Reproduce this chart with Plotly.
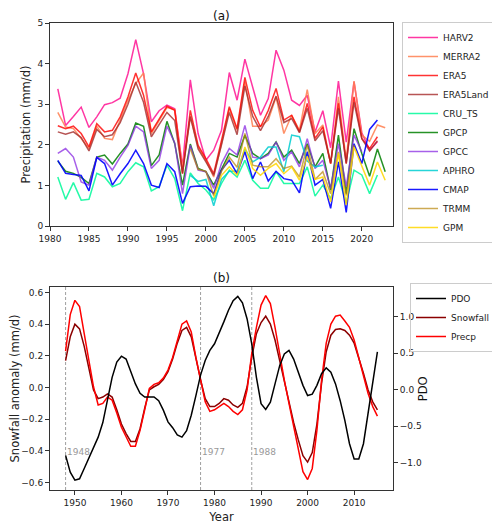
import plotly.graph_objects as go

# ---------------- Panel (a) data ----------------
HARV2_start = 1981
HARV2 = [3.38, 2.48, 2.70, 2.93, 2.43, 2.69, 2.99, 3.04, 3.15, 3.75, 4.59, 3.75, 2.57, 2.84, 2.98,
         2.89, 1.46, 3.60, 2.28, 1.62, 1.87, 2.36, 3.78, 3.10, 4.11, 3.43, 2.73, 3.14, 4.33, 3.84,
         3.10, 2.97, 3.22, 2.32, 2.84, 1.93, 3.57, 2.07, 3.55, 2.30, 1.87, 2.08]
MERRA2_start = 1981
MERRA2 = [2.80, 2.44, 2.40, 2.16, 1.91, 2.46, 2.16, 2.13, 2.61, 3.10, 3.51, 3.77, 2.28, 2.61, 2.92,
          2.87, 1.42, 2.69, 1.95, 1.62, 1.21, 2.03, 2.89, 2.36, 3.55, 2.46, 2.46, 2.61, 3.18, 2.28,
          2.73, 2.36, 3.36, 2.28, 2.49, 1.54, 3.18, 1.62, 3.57, 2.24, 2.09, 2.49, 2.42]
ERA5_start = 1981
ERA5 = [2.47, 2.40, 2.46, 2.28, 1.95, 2.52, 2.32, 2.36, 2.69, 3.18, 3.77, 3.22, 2.32, 2.65, 2.95,
        2.85, 1.29, 2.85, 1.99, 1.66, 1.29, 2.11, 2.94, 2.40, 3.66, 2.85, 2.44, 2.85, 3.39, 2.61,
        2.73, 2.32, 3.02, 2.16, 2.44, 1.54, 3.02, 1.54, 3.18, 2.16, 1.91, 2.20]
ERA5Land_start = 1981
ERA5Land = [2.32, 2.26, 2.32, 2.18, 1.85, 2.38, 2.20, 2.25, 2.55, 3.00, 3.55, 3.05, 2.20, 2.50, 2.80,
            2.60, 1.30, 2.70, 1.90, 1.58, 1.25, 2.00, 2.80, 2.25, 3.45, 2.70, 2.35, 2.70, 3.20, 2.55,
            2.65, 2.30, 2.90, 2.10, 2.35, 1.55, 2.90, 1.55, 3.05, 2.15, 1.85, 2.10]
CRU_TS_start = 1981
CRU_TS = [1.21, 0.66, 1.07, 0.64, 0.66, 1.30, 1.21, 0.97, 1.05, 1.34, 1.56, 1.46, 0.87, 0.97, 1.50,
          1.17, 0.38, 1.31, 1.05, 0.89, 0.65, 1.05, 1.38, 1.21, 1.62, 1.13, 0.93, 0.93, 1.34, 1.05,
          1.05, 1.05, 1.46, 0.74, 1.01, 0.68, 1.21, 0.56, 1.38, 1.26, 0.80, 1.26]
GPCP_start = 1981
GPCP = [1.60, 1.35, 1.30, 1.20, 1.05, 1.70, 1.75, 1.53, 1.79, 2.02, 2.54, 2.46, 1.49, 1.75, 2.58,
        2.03, 1.01, 2.02, 1.42, 1.34, 1.01, 1.42, 1.79, 1.70, 2.24, 1.79, 1.66, 1.79, 2.07, 1.70,
        1.87, 1.54, 2.03, 1.46, 1.79, 0.89, 2.24, 0.80, 2.40, 1.79, 1.23, 1.90, 1.34]
GPCC_start = 1981
GPCC = [1.79, 1.91, 1.70, 1.09, 1.01, 1.70, 1.62, 1.38, 1.70, 1.99, 2.46, 2.32, 1.42, 1.62, 2.46,
        2.05, 0.80, 1.99, 1.38, 1.34, 0.93, 1.54, 1.91, 1.75, 2.48, 1.70, 1.66, 1.75, 2.07, 1.62,
        1.83, 1.46, 2.15, 1.42, 1.62, 0.93, 2.03, 0.97, 2.24, 1.83]
APHRO_start = 1998
APHRO = [1.25, 1.10, 1.15, 0.50, 1.15, 1.35, 1.35, 1.90, 1.58, 1.70, 1.95, 1.95, 1.34, 2.24, 2.20,
         1.60, 1.46, 1.50]
CMAP_start = 1981
CMAP = [1.62, 1.30, 1.27, 1.25, 0.87, 1.69, 1.54, 1.01, 1.29, 1.54, 1.87, 1.54, 1.01, 0.95, 1.54,
        1.34, 0.56, 0.97, 0.99, 0.98, 0.80, 1.38, 1.62, 1.29, 1.83, 1.17, 1.58, 1.11, 1.35, 1.17,
        1.13, 0.82, 1.83, 1.01, 1.15, 0.44, 1.58, 0.34, 2.03, 1.54, 2.38, 2.61]
TRMM_start = 1998
TRMM = [1.90, 1.40, 1.35, 0.75, 1.35, 1.70, 1.45, 2.28, 1.50, 1.46, 1.46, 1.66, 1.42, 1.48, 1.21,
        1.99, 1.15, 1.34, 0.80, 1.83, 0.76, 2.00]
GPM_start = 2001
GPM = [0.70, 1.25, 1.46, 1.25, 1.95, 1.42, 1.25, 1.42, 1.54, 1.29, 1.46, 1.13, 1.72, 1.15, 1.21,
       0.60, 1.79, 0.52, 1.95, 1.46, 1.01, 1.58, 1.13]

series_names = ["HARV2", "MERRA2", "ERA5", "ERA5Land", "CRU_TS", "GPCP", "GPCC",
                "APHRO", "CMAP", "TRMM", "GPM"]
series_values = [HARV2, MERRA2, ERA5, ERA5Land, CRU_TS, GPCP, GPCC, APHRO, CMAP, TRMM, GPM]
series_starts = [HARV2_start, MERRA2_start, ERA5_start, ERA5Land_start, CRU_TS_start, GPCP_start,
                 GPCC_start, APHRO_start, CMAP_start, TRMM_start, GPM_start]
series_colors = ["#FF1493", "#FF7F50", "#FF0000", "#A52A2A", "#00FA9A", "#007F00", "#8A2BE2",
                 "#00CED1", "#0000FF", "#B8860B", "#FFD700"]
series_opacity = [0.85, 0.85, 0.8, 0.8, 0.85, 0.85, 0.75, 0.85, 0.9, 0.7, 0.85]

# ---------------- Panel (b) data ----------------
years_b = list(range(1948, 2016))
PDO = [-0.90, -1.13, -1.24, -1.22, -1.08, -0.94, -0.81, -0.65, -0.45, -0.15, 0.17, 0.38, 0.46, 0.42,
       0.26, 0.08, -0.05, -0.10, -0.10, -0.10, -0.15, -0.28, -0.44, -0.52, -0.62, -0.65, -0.56, -0.35,
       -0.08, 0.20, 0.40, 0.54, 0.63, 0.77, 0.93, 1.09, 1.22, 1.28, 1.19, 0.97, 0.63, 0.17, -0.19,
       -0.27, -0.17, 0.08, 0.33, 0.49, 0.54, 0.42, 0.24, 0.06, -0.08, -0.06, 0.06, 0.22, 0.30, 0.24,
       0.08, -0.15, -0.42, -0.74, -0.95, -0.95, -0.74, -0.33, 0.13, 0.52]
Snowfall = [0.17, 0.32, 0.40, 0.37, 0.26, 0.13, -0.015, -0.07, -0.06, -0.04, -0.06, -0.14, -0.23,
            -0.29, -0.34, -0.34, -0.26, -0.13, -0.015, 0.005, 0.02, 0.05, 0.10, 0.18, 0.28, 0.36, 0.38,
            0.32, 0.18, 0.05, -0.07, -0.12, -0.12, -0.10, -0.07, -0.08, -0.11, -0.125, -0.10, 0.005,
            0.19, 0.34, 0.41, 0.45, 0.40, 0.30, 0.17, 0.037, -0.09, -0.22, -0.33, -0.43, -0.47, -0.41,
            -0.23, 0.026, 0.226, 0.33, 0.366, 0.37, 0.36, 0.33, 0.28, 0.19, 0.09, -0.015, -0.09, -0.14]
Precp = [0.23, 0.46, 0.55, 0.51, 0.34, 0.17, 0.005, -0.11, -0.10, -0.06, -0.08, -0.16, -0.25, -0.31,
         -0.37, -0.37, -0.27, -0.14, -0.005, 0.02, 0.03, 0.06, 0.11, 0.19, 0.30, 0.40, 0.42, 0.35, 0.19,
         0.05, -0.09, -0.15, -0.14, -0.12, -0.10, -0.12, -0.15, -0.17, -0.14, -0.015, 0.215, 0.38, 0.52,
         0.58, 0.53, 0.38, 0.20, 0.047, -0.10, -0.25, -0.39, -0.53, -0.58, -0.51, -0.27, 0.047, 0.28,
         0.40, 0.45, 0.457, 0.42, 0.38, 0.30, 0.19, 0.08, -0.037, -0.12, -0.18]
shift_years = [1948, 1977, 1988]
shift_label_y = -0.405

FONT = "DejaVu Sans"
AXCOL = "#333333"
TICK_SIZE = 9
TITLE_SIZE = 11.5
# the page body keeps its default 8px margin, so the figure is 8px smaller than the window
W, H, PAGE_OFF = 492, 518, 8

fig = go.Figure()

for name, vals, start, col, op in zip(series_names, series_values, series_starts,
                                      series_colors, series_opacity):
    fig.add_trace(go.Scatter(
        x=list(range(start, start + len(vals))), y=vals, mode="lines", name=name,
        line=dict(color=col, width=1.5), opacity=op, xaxis="x", yaxis="y", legend="legend"))

fig.add_trace(go.Scatter(x=years_b, y=PDO, mode="lines", name="PDO",
                         line=dict(color="black", width=1.5), xaxis="x2", yaxis="y3",
                         legend="legend2"))
fig.add_trace(go.Scatter(x=years_b, y=Snowfall, mode="lines", name="Snowfall",
                         line=dict(color="#8B0000", width=1.5), xaxis="x2", yaxis="y2",
                         legend="legend2"))
fig.add_trace(go.Scatter(x=years_b, y=Precp, mode="lines", name="Precp",
                         line=dict(color="#FF0000", width=1.5), xaxis="x2", yaxis="y2",
                         legend="legend2"))

shapes = []
annotations = []
for yr in shift_years:
    shapes.append(dict(type="line", xref="x2", yref="y2 domain", x0=yr, x1=yr, y0=0, y1=1,
                       line=dict(color="#888888", width=0.8, dash="3px,2px"), layer="below"))
    annotations.append(dict(x=yr, y=shift_label_y, xref="x2", yref="y2", text=str(yr),
                            showarrow=False, xanchor="left", xshift=-1,
                            font=dict(family=FONT, size=9, color="#999999")))

annotations.append(dict(x=0.5, y=1.0, xref="x domain", yref="y domain", text="(a)",
                        showarrow=False, yanchor="bottom", yshift=-2,
                        font=dict(family=FONT, size=12, color="#111111")))
annotations.append(dict(x=0.5, y=1.0, xref="x2 domain", yref="y2 domain", text="(b)",
                        showarrow=False, yanchor="bottom", yshift=0,
                        font=dict(family=FONT, size=12, color="#111111")))
annotations.append(dict(x=1.116, y=0.5, xref="x2 domain", yref="y2 domain", text="PDO",
                        showarrow=False, textangle=-90,
                        font=dict(family=FONT, size=TITLE_SIZE, color="#111111")))

axis_common = dict(showline=True, linecolor=AXCOL, linewidth=1, mirror=True, ticks="outside",
                   ticklen=4, tickcolor=AXCOL, showgrid=False, zeroline=False, automargin=False,
                   tickfont=dict(family=FONT, size=TICK_SIZE, color="#222222"))


def cx(px):
    return (px - PAGE_OFF) / W


def cy(py):
    return 1 - (py - PAGE_OFF) / H


fig.update_layout(
    width=W, height=H,
    margin=dict(l=50 - PAGE_OFF, r=106.5, t=22.7 - PAGE_OFF, b=36, autoexpand=False),
    plot_bgcolor="white", paper_bgcolor="white",
    font=dict(family=FONT, size=10, color="#222222"),
    xaxis=dict(domain=[0, 1], anchor="y", range=[1980, 2024],
               tickvals=[1980, 1985, 1990, 1995, 2000, 2005, 2010, 2015, 2020], **axis_common),
    yaxis=dict(domain=[0.565, 1.0], anchor="x", range=[0, 5], tickvals=[0, 1, 2, 3, 4, 5],
               title=dict(text="Precipitation (mm/d)", font=dict(family=FONT, size=TITLE_SIZE),
                          standoff=4),
               **axis_common),
    xaxis2=dict(domain=[0, 1], anchor="y2", range=[1944.65, 2018.35],
                tickvals=[1950, 1960, 1970, 1980, 1990, 2000, 2010],
                title=dict(text="Year", font=dict(family=FONT, size=TITLE_SIZE), standoff=6),
                **axis_common),
    yaxis2=dict(domain=[0, 0.435], anchor="x2", range=[-0.646, 0.635],
                tickvals=[-0.6, -0.4, -0.2, 0.0, 0.2, 0.4, 0.6], tickformat=".1f",
                title=dict(text="Snowfall anomaly (mm/d)", font=dict(family=FONT, size=TITLE_SIZE),
                           standoff=6),
                **axis_common),
    yaxis3=dict(overlaying="y2", anchor="x2", side="right", range=[-1.374, 1.41],
                tickvals=[-1.0, -0.5, 0.0, 0.5, 1.0], tickformat=".1f", automargin=False,
                showline=True, linecolor=AXCOL, linewidth=1, ticks="outside", ticklen=4,
                tickcolor=AXCOL, showgrid=False, zeroline=False,
                tickfont=dict(family=FONT, size=TICK_SIZE, color="#222222")),
    legend=dict(xref="container", yref="container", x=cx(402), y=cy(22),
                xanchor="left", yanchor="top", bgcolor="rgba(255,255,255,0.9)",
                bordercolor="#CCCCCC", borderwidth=1, font=dict(family=FONT, size=9)),
    legend2=dict(xref="container", yref="container", x=cx(410), y=cy(283),
                 xanchor="left", yanchor="top", bgcolor="rgba(255,255,255,0)",
                 bordercolor="#CCCCCC", borderwidth=1, font=dict(family=FONT, size=9)),
    shapes=shapes, annotations=annotations, showlegend=True,
)

fig.write_html("out.html")
